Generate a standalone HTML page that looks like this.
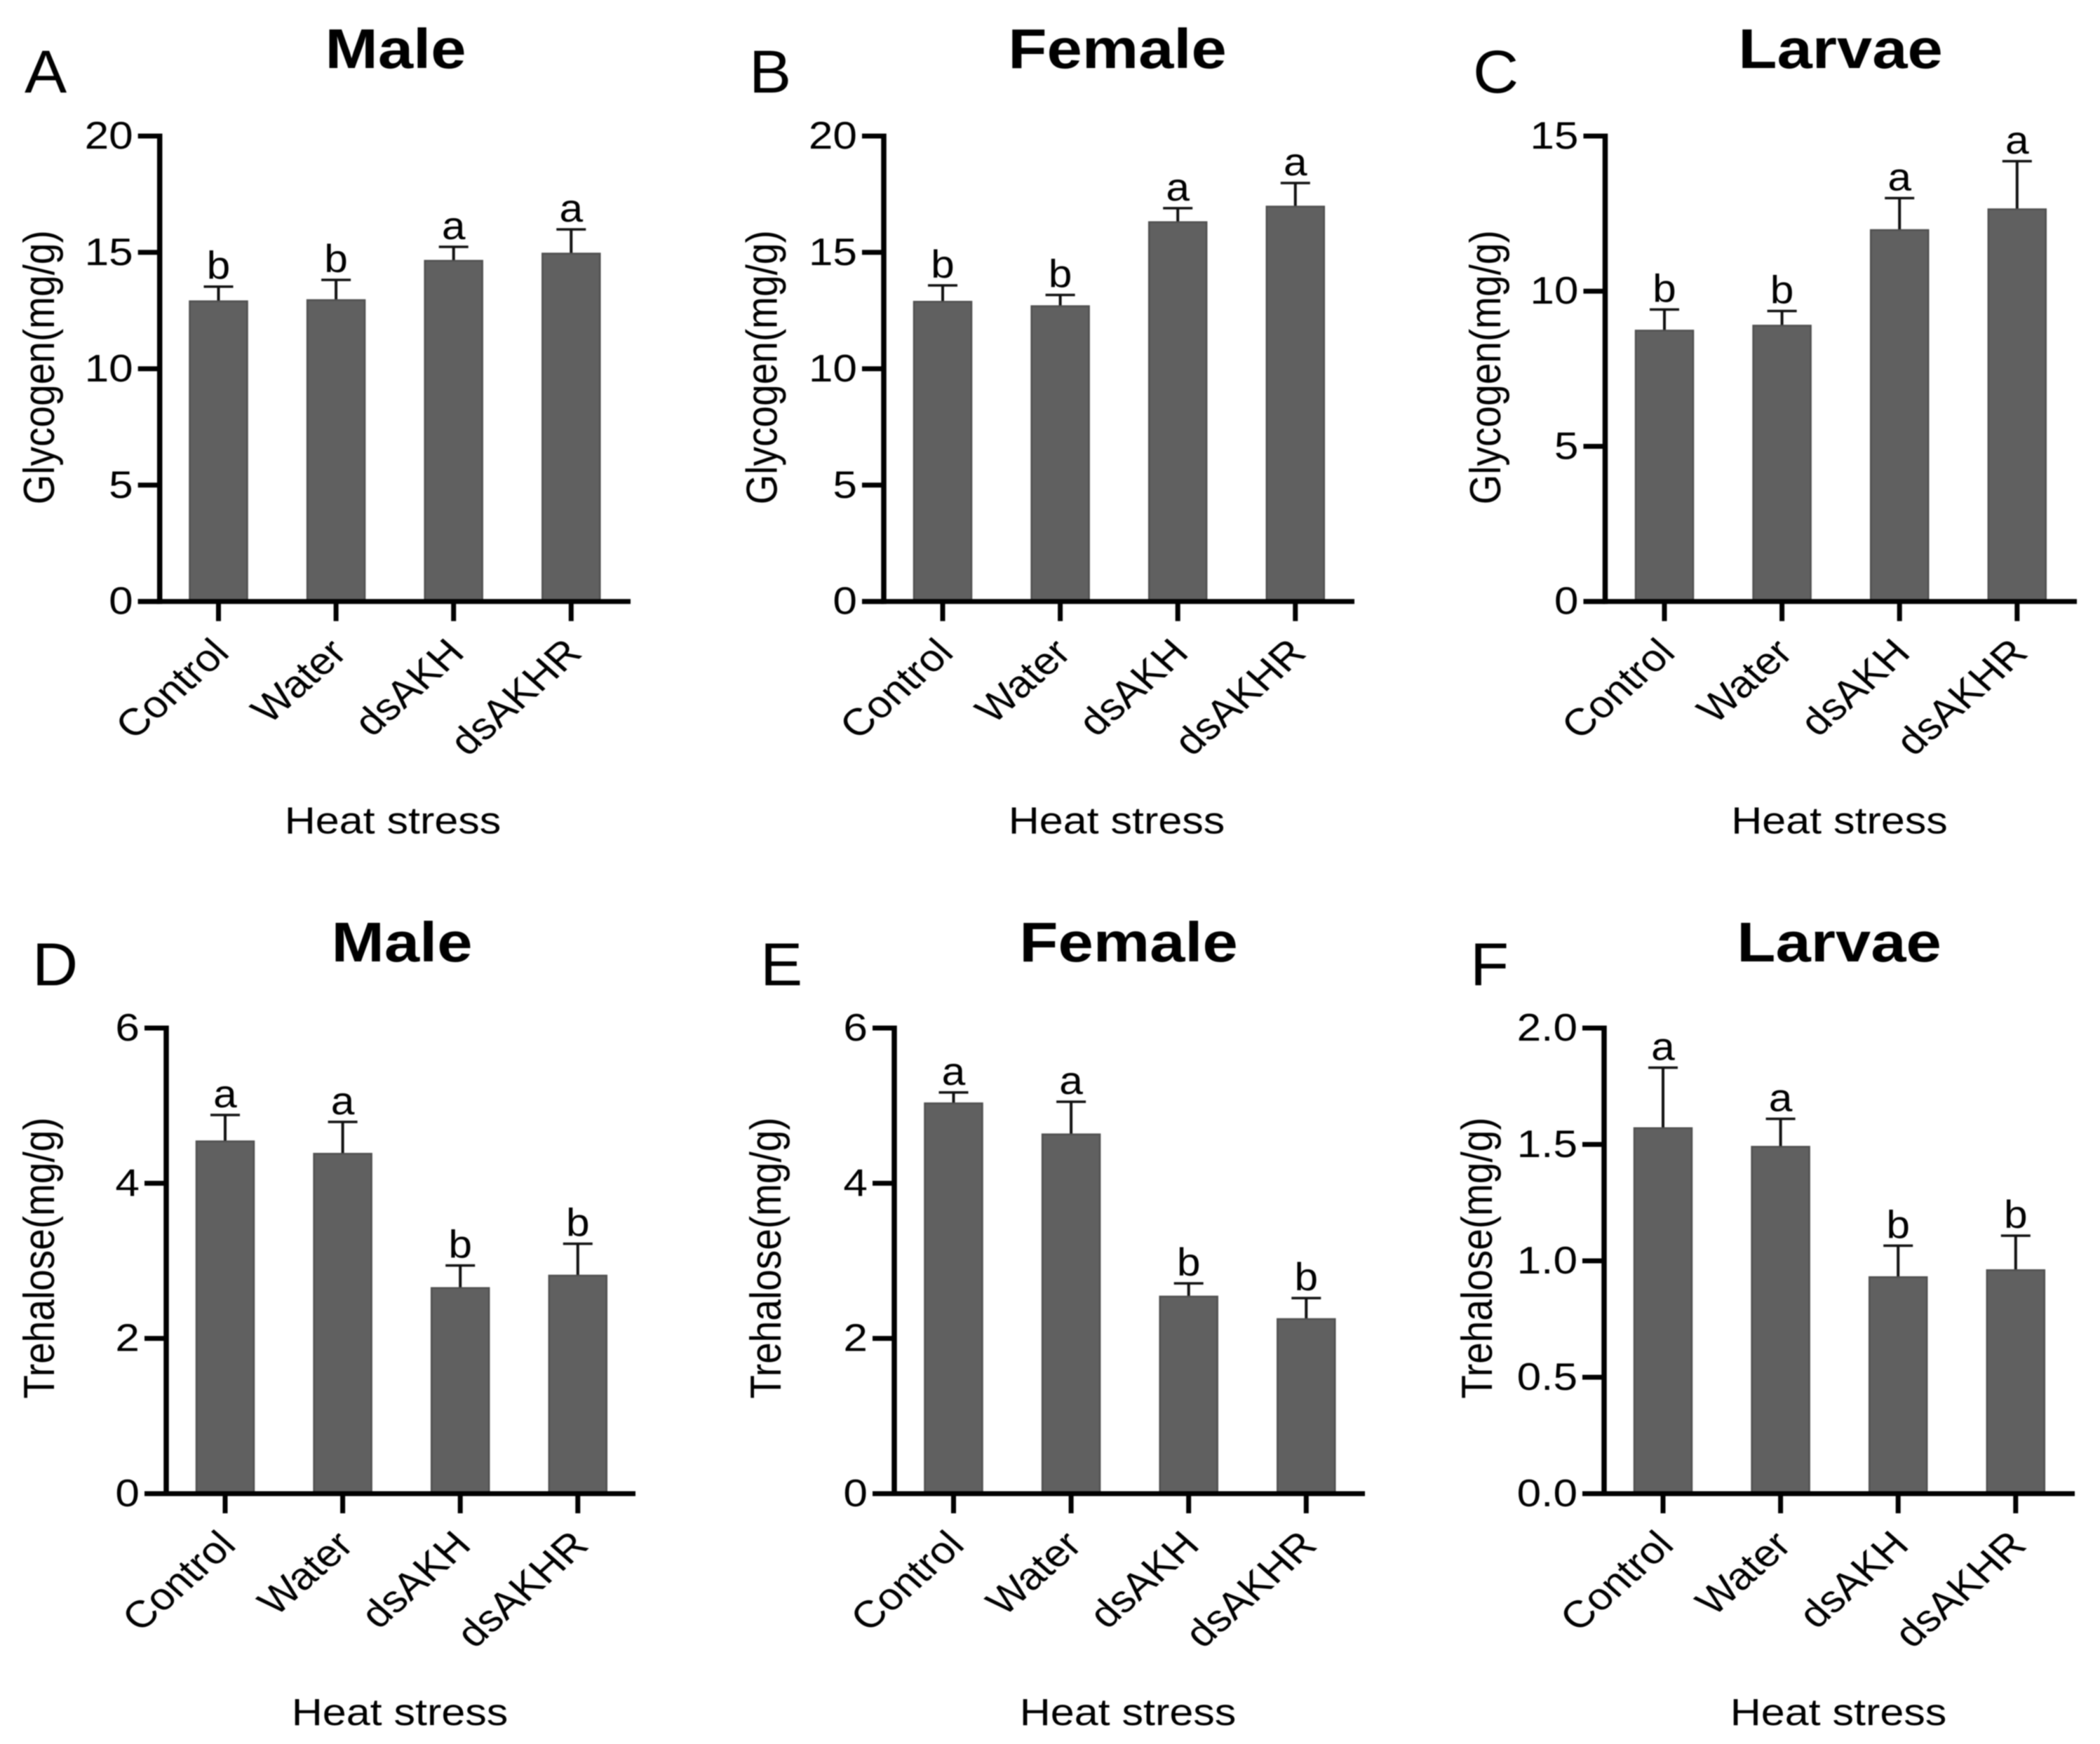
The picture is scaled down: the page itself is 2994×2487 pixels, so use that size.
<!DOCTYPE html>
<html lang="en">
<head>
<meta charset="utf-8">
<title>Glycogen and trehalose under heat stress</title>
<style>
html,body{margin:0;padding:0;background:#fff;}
svg{display:block;filter:blur(0.7px);}
text{font-family:"Liberation Sans",Arial,sans-serif;fill:#000;}
</style>
</head>
<body>
<svg id="chart" xmlns="http://www.w3.org/2000/svg" width="2994" height="2487" viewBox="0 0 2994 2487"></svg>
<script>
const categories = ['Control', 'Water', 'dsAKH', 'dsAKHR'];
const xAxisTitle = 'Heat stress';

const ticksGlycogen20 = ['0', '5', '10', '15', '20'];
const ticksGlycogen15 = ['0', '5', '10', '15'];
const ticksTrehalose6 = ['0', '2', '4', '6'];
const ticksTrehalose2 = ['0.0', '0.5', '1.0', '1.5', '2.0'];

const maleGlycogenMeans = [12.9, 12.95, 14.64, 14.95];
const maleGlycogenUpper = [13.53, 13.82, 15.24, 15.99];
const maleGlycogenLetters = ['b', 'b', 'a', 'a'];

const femaleGlycogenMeans = [12.88, 12.69, 16.3, 16.97];
const femaleGlycogenUpper = [13.58, 13.17, 16.9, 17.98];
const femaleGlycogenLetters = ['b', 'b', 'a', 'a'];

const larvaeGlycogenMeans = [8.73, 8.89, 11.97, 12.64];
const larvaeGlycogenUpper = [9.41, 9.36, 13.0, 14.19];
const larvaeGlycogenLetters = ['b', 'b', 'a', 'a'];

const maleTrehaloseMeans = [4.54, 4.38, 2.65, 2.81];
const maleTrehaloseUpper = [4.88, 4.79, 2.94, 3.22];
const maleTrehaloseLetters = ['a', 'a', 'b', 'b'];

const femaleTrehaloseMeans = [5.03, 4.63, 2.54, 2.25];
const femaleTrehaloseUpper = [5.17, 5.05, 2.71, 2.52];
const femaleTrehaloseLetters = ['a', 'a', 'b', 'b'];

const larvaeTrehaloseMeans = [1.57, 1.49, 0.93, 0.96];
const larvaeTrehaloseUpper = [1.83, 1.61, 1.065, 1.108];
const larvaeTrehaloseLetters = ['a', 'a', 'b', 'b'];

const NS = 'http://www.w3.org/2000/svg';
const SX = 1.13;
const root = document.getElementById('chart');

function shape(parent, tag, attrs) {
  const el = document.createElementNS(NS, tag);
  for (const k in attrs) el.setAttribute(k, attrs[k]);
  parent.appendChild(el);
  return el;
}
function label(parent, str, x, y, size, anchor, rot, weight, sx) {
  const el = document.createElementNS(NS, 'text');
  el.textContent = str;
  el.setAttribute('transform', 'translate(' + x + ' ' + y + ') scale(' + (sx || SX) + ' 1) rotate(' + rot + ')');
  el.setAttribute('font-size', size);
  el.setAttribute('text-anchor', anchor);
  el.setAttribute('font-weight', weight);
  parent.appendChild(el);
  return el;
}

function drawPanel(p) {
  const g = document.createElementNS(NS, 'g');
  
  
  root.appendChild(g);

  const maxV = Number(p.ticks[p.ticks.length - 1]);
  const yScale = v => p.y0 - (v / maxV) * (p.y0 - p.yTop);
  const xScale = i => p.c1 + i * p.step;

  const letterEl = label(g, p.letter, p.letterX, p.letterY, 86, 'start', 0, 'normal', 1.05);
  
  

  const titleEl = label(g, p.title, p.titleX, p.titleY, 80, 'middle', 0, 'bold');
  
  

  const yTitleEl = label(g, p.yTitle, p.yTitleX, (p.y0 + p.yTop) / 2 + p.yTitleDy, 55, 'middle', -90, 'normal');
  
  

  const xTitleEl = label(g, xAxisTitle, p.heatX, p.heatY, 54, 'middle', 0, 'normal');
  
  

  p.means.forEach((m, i) => {
    const cx = xScale(i);
    const top = yScale(m);
    const upper = yScale(p.upper[i]);

    const stem = shape(g, 'line', {x1: cx, x2: cx, y1: upper, y2: top, stroke: '#111', 'stroke-width': 4});
    
    

    const cap = shape(g, 'line', {x1: cx - 21, x2: cx + 21, y1: upper, y2: upper, stroke: '#111', 'stroke-width': 3.5});
    
    

    const bar = shape(g, 'rect', {x: cx - 41, y: top, width: 82, height: p.y0 - top, fill: '#606060', stroke: '#505050', 'stroke-width': 2.5});
    
    

    const sig = label(g, p.letters[i], cx, upper - 11, 56, 'middle', 0, 'normal', 1.08);
    
    

    const tick = shape(g, 'line', {x1: cx, x2: cx, y1: p.y0, y2: p.y0 + 28, stroke: '#000', 'stroke-width': 7});
    
    

    const catEl = label(g, categories[i], cx + 18, p.y0 + 76, 54, 'end', -45, 'normal');
    
    
  });

  p.ticks.forEach(t => {
    const y = yScale(Number(t));
    const tick = shape(g, 'line', {x1: p.axisX - 31, x2: p.axisX, y1: y, y2: y, stroke: '#000', 'stroke-width': 7});
    
    

    const tl = label(g, t, p.axisX - 38, y + 18, 55, 'end', 0, 'normal');
    
    
  });

  const yAxis = shape(g, 'line', {x1: p.axisX, x2: p.axisX, y1: p.yTop - 3.5, y2: p.y0 + 3.5, stroke: '#000', 'stroke-width': 7.5});
  
  

  const xAxis = shape(g, 'line', {x1: p.axisX - 31, x2: p.endX, y1: p.y0, y2: p.y0, stroke: '#000', 'stroke-width': 7});
  
  
}

const TOP = {yTop: 194, y0: 857.7, titleY: 97, letterY: 132, heatY: 1188.5};
const BOT = {yTop: 1466, y0: 2130, titleY: 1371, letterY: 1405, heatY: 2460};
const STEP = 167.6;

drawPanel(Object.assign({}, TOP, {letter: 'A', title: 'Male', yTitle: 'Glycogen(mg/g)', ticks: ticksGlycogen20, means: maleGlycogenMeans, upper: maleGlycogenUpper, letters: maleGlycogenLetters, axisX: 227.7, c1: 311.5, step: STEP, endX: 899, titleX: 564, heatX: 560, yTitleX: 77, yTitleDy: -2, letterX: 35}));
drawPanel(Object.assign({}, TOP, {letter: 'B', title: 'Female', yTitle: 'Glycogen(mg/g)', ticks: ticksGlycogen20, means: femaleGlycogenMeans, upper: femaleGlycogenUpper, letters: femaleGlycogenLetters, axisX: 1260, c1: 1344, step: STEP, endX: 1931, titleX: 1593, heatX: 1592, yTitleX: 1107.5, yTitleDy: -2, letterX: 1068}));
drawPanel(Object.assign({}, TOP, {letter: 'C', title: 'Larvae', yTitle: 'Glycogen(mg/g)', ticks: ticksGlycogen15, means: larvaeGlycogenMeans, upper: larvaeGlycogenUpper, letters: larvaeGlycogenLetters, axisX: 2288.5, c1: 2373, step: STEP, endX: 2961, titleX: 2624, heatX: 2622.5, yTitleX: 2139, yTitleDy: -2, letterX: 2100}));
drawPanel(Object.assign({}, BOT, {letter: 'D', title: 'Male', yTitle: 'Trehalose(mg/g)', ticks: ticksTrehalose6, means: maleTrehaloseMeans, upper: maleTrehaloseUpper, letters: maleTrehaloseLetters, axisX: 237, c1: 321, step: STEP, endX: 906, titleX: 573, heatX: 570, yTitleX: 77, yTitleDy: -4, letterX: 46}));
drawPanel(Object.assign({}, BOT, {letter: 'E', title: 'Female', yTitle: 'Trehalose(mg/g)', ticks: ticksTrehalose6, means: femaleTrehaloseMeans, upper: femaleTrehaloseUpper, letters: femaleTrehaloseLetters, axisX: 1275, c1: 1359.5, step: STEP, endX: 1946, titleX: 1609, heatX: 1608, yTitleX: 1113, yTitleDy: -4, letterX: 1084}));
drawPanel(Object.assign({}, BOT, {letter: 'F', title: 'Larvae', yTitle: 'Trehalose(mg/g)', ticks: ticksTrehalose2, means: larvaeTrehaloseMeans, upper: larvaeTrehaloseUpper, letters: larvaeTrehaloseLetters, axisX: 2287, c1: 2371, step: STEP, endX: 2958, titleX: 2622, heatX: 2621, yTitleX: 2127, yTitleDy: -4, letterX: 2096}));
</script>
</body>
</html>
